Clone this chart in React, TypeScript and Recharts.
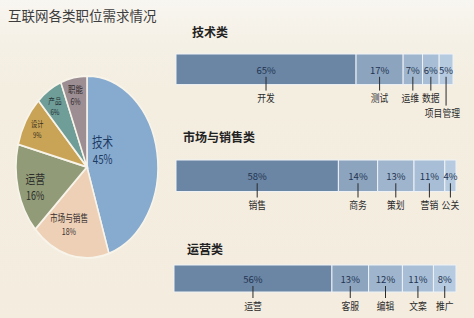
import React from 'react';
import { PieChart, Pie, Cell, BarChart, Bar, XAxis, YAxis } from 'recharts';

// ---------- data ----------
const chartTitle = '互联网各类职位需求情况';

const pieNames = ['技术', '市场与销售', '运营', '设计', '产品', '职能'];
const pieValues = [45, 18, 16, 9, 6, 6];

const groupTitles = ['技术类', '市场与销售类', '运营类'];

const techNames = ['开发', '测试', '运维', '数据', '项目管理'];
const techValues = [65, 17, 7, 6, 5];

const marketNames = ['销售', '商务', '策划', '营销', '公关'];
const marketValues = [58, 14, 13, 11, 4];

const opsNames = ['运营', '客服', '编辑', '文案', '推广'];
const opsValues = [56, 13, 12, 11, 8];

// ---------- styles / layout ----------
const FONT = "'Noto Sans CJK SC', 'Noto Sans', sans-serif";
const PIE_COLORS = ['#87abcf', '#edd0b6', '#919b77', '#c9a456', '#6f9d97', '#9c8e92'];
const PIE_LABEL_COLORS = ['#1d3a63', '#3a3030', '#2b2d2a', '#3a2f1c', '#1f2f33', '#2e2a30'];
const PIE_LABEL_FONT = [13.5, 9.8, 12.5, 8, 8.5, 9.5];
const PIE_LABEL_LAYOUT = [
  { r: 0.29, da: 31.5 },
  { r: 0.686, da: -7.3 },
  { r: 0.76, da: 1.9 },
  { r: 0.815, da: 0 },
  { r: 0.81, da: 1.5 },
  { r: 0.81, da: 0.7 },
];
const SEG_COLORS = ['#6b85a4', '#8da4bf', '#9fb5cd', '#a8bed6', '#b6cae0'];
const NAME_CHAR_W = 8.8;

const GROUP_LAYOUT = [
  { x: 176, w: 277, y: 52, h: 34, tx: 192, ty: 32 },
  { x: 176, w: 280, y: 158, h: 35, tx: 183, ty: 137 },
  { x: 174, w: 282, y: 263, h: 30, tx: 187, ty: 249 },
];

const groups = [
  { names: techNames, values: techValues },
  { names: marketNames, values: marketValues },
  { names: opsNames, values: opsValues },
];

const pieData = pieNames.map((name, i) => ({ name, value: pieValues[i] }));

const RAD = Math.PI / 180;

const renderPieLabel = (p: any) => {
  const i = p.index;
  const L = PIE_LABEL_LAYOUT[i];
  const ang = (Number(p.midAngle) + L.da) * RAD;
  const r = Number(p.outerRadius) * L.r;
  const x = Number(p.cx) + r * Math.cos(ang);
  const y = Number(p.cy) - r * Math.sin(ang);
  const fs = PIE_LABEL_FONT[i];
  const gap = fs * 1.32;
  return (
    <g key={`pl-${i}`}>
      <text x={x} y={y - gap / 2} textAnchor="middle" dominantBaseline="central"
        fontSize={fs} fontFamily={FONT} fill={PIE_LABEL_COLORS[i]}>
        {pieNames[i]}
      </text>
      <text x={x} y={y + gap / 2} textAnchor="middle" dominantBaseline="central"
        fontSize={fs * 0.92} fontFamily={FONT} fill={PIE_LABEL_COLORS[i]}>
        {`${pieValues[i]}%`}
      </text>
    </g>
  );
};

const makeSegLabel = (names: string[], values: number[], i: number, barW: number) => (p: any) => {
  const x = Number(p.x);
  const y = Number(p.y);
  const w = Number(p.width);
  const h = Number(p.height);
  const cx = x + w / 2;
  const cy = y + h / 2 + 0.5;
  const name = names[i];
  const drop = name.length > 2;
  const lineEnd = y + h + (drop ? 21 : 6);
  const nameY = y + h + (drop ? 28 : 13);
  const tw = name.length * NAME_CHAR_W;
  const half = tw / 2;
  let nx = Math.min(cx, 460 - half);
  // avoid collision with the next label on the same row
  if (!drop && i + 1 < names.length && names[i + 1].length <= 2) {
    const d = (barW * (values[i] + values[i + 1])) / 200;
    const need = ((name.length + names[i + 1].length) * NAME_CHAR_W) / 2 + 3;
    if (d < need) nx -= need - d;
  }
  return (
    <g key={`sl-${i}`}>
      <text x={cx} y={cy} textAnchor="middle" dominantBaseline="central"
        fontSize={9.5} fontFamily={FONT} fill="#1f3552">
        {`${values[i]}%`}
      </text>
      <line x1={cx} x2={cx} y1={cy + 7} y2={lineEnd} stroke="#2a2a2a" strokeWidth={1} />
      <text x={nx} y={nameY} textAnchor="middle" dominantBaseline="central"
        fontSize={10} fontFamily={FONT} fill="#2b2b2b"
        textLength={tw} lengthAdjust="spacingAndGlyphs">
        {name}
      </text>
    </g>
  );
};

const GroupBar = ({ gi }: { gi: number }) => {
  const g = groups[gi];
  const L = GROUP_LAYOUT[gi];
  const row: any = { name: groupTitles[gi] };
  g.values.forEach((v, i) => { row[`s${i}`] = v; });
  const H = L.h + 40;
  return (
    <div style={{ position: 'absolute', left: 0, top: L.y, width: 474, height: H }}>
      <BarChart width={474} height={H} data={[row]} layout="vertical"
        margin={{ top: 0, bottom: 40, left: L.x, right: 474 - L.x - L.w }}>
        <XAxis type="number" domain={[0, 100]} hide />
        <YAxis type="category" dataKey="name" hide />
        {g.values.map((_, i) => (
          <Bar key={i} dataKey={`s${i}`} stackId="a" fill={SEG_COLORS[i]}
            stroke="#eef2f6" strokeWidth={1} barSize={L.h}
            isAnimationActive={false}
            label={makeSegLabel(g.names, g.values, i, L.w)} />
        ))}
      </BarChart>
    </div>
  );
};

export default function App() {
  return (
    <div style={{
      position: 'absolute', left: 0, top: 0, width: 474, height: 318, overflow: 'hidden',
      background: 'linear-gradient(to bottom, #f8f6f1 0px, #f5f0e5 45px, #f4eee1 90px, #f3ecdf 318px)',
      fontFamily: FONT,
    }}>
      <div style={{
        position: 'absolute', left: 8, top: 5, fontSize: 13.5, color: '#3d3d3d',
        whiteSpace: 'nowrap', lineHeight: '20px',
      }}>
        {chartTitle}
      </div>

      <div style={{
        position: 'absolute', left: 0, top: 67, width: 224, height: 200,
        transform: 'scaleX(0.78)', transformOrigin: '0 0',
      }}>
        <PieChart width={224} height={200} margin={{ top: 0, right: 0, bottom: 0, left: 0 }}>
          <Pie data={pieData} dataKey="value" nameKey="name" cx={111.5} cy={100}
            outerRadius={91} startAngle={90} endAngle={-270}
            stroke="#f8f4ea" strokeWidth={2} labelLine={false}
            label={renderPieLabel} isAnimationActive={false}>
            {pieData.map((d, i) => <Cell key={d.name} fill={PIE_COLORS[i]} />)}
          </Pie>
        </PieChart>
      </div>

      {groupTitles.map((t, gi) => (
        <div key={t} style={{
          position: 'absolute', left: GROUP_LAYOUT[gi].tx, top: GROUP_LAYOUT[gi].ty - 9,
          fontSize: 12, fontWeight: 700, color: '#222', lineHeight: '18px', whiteSpace: 'nowrap',
        }}>
          {t}
        </div>
      ))}

      {groups.map((_, gi) => <GroupBar key={gi} gi={gi} />)}
    </div>
  );
}
